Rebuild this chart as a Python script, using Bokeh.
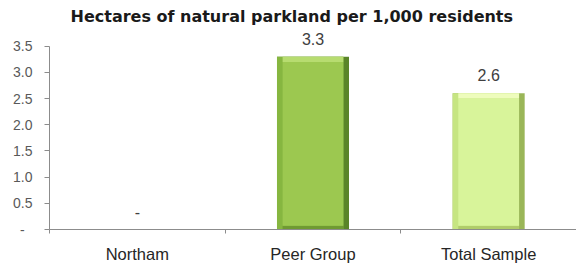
from bokeh.plotting import figure
from bokeh.models import FixedTicker, Range1d, ColumnDataSource
from bokeh.core.properties import value
from bokeh.embed import file_html
from bokeh.resources import INLINE

# ---- data ----
title_text = "Hectares of natural parkland per 1,000 residents"
categories = ["Northam", "Peer Group", "Total Sample"]
values = [0.0, 3.3, 2.6]
value_labels = ["-", "3.3", "2.6"]
y_ticks = [0.0, 0.5, 1.0, 1.5, 2.0, 2.5, 3.0, 3.5]
y_tick_labels = ["-\u00a0\u00a0", "0.5", "1.0", "1.5", "2.0", "2.5", "3.0", "3.5"]

# ---- styles (per bar) ----
main_colors = ["#9cc850", "#9cc850", "#d8f49a"]
left_colors = ["#86b640", "#86b640", "#c6e582"]
dark_colors = ["#5a8428", "#5a8428", "#9ab658"]
top_colors = ["#b7dc70", "#b7dc70", "#eefcbc"]
bottom_colors = ["#6f9a32", "#6f9a32", "#b0cc6a"]

pos = [i + 0.5 for i in range(len(categories))]

p = figure(width=576, height=265, output_backend="svg", toolbar_location=None,
           x_range=Range1d(0, len(categories)), y_range=Range1d(0, 3.8),
           min_border_left=49, min_border_right=0, min_border_top=30, min_border_bottom=33)

p.title.text = title_text
p.title.text_font = "DejaVu Sans"
p.title.text_font_style = "bold"
p.title.text_font_size = "16px"
p.title.text_color = "#1a1a1a"
p.title.align = "left"
p.title.offset = 21
p.title.standoff = 9

hw = 0.205   # half bar width (data units)
ex = 0.032   # side bevel
ty = 0.10    # top bevel
by = 0.07    # bottom bevel

idx = [i for i, v in enumerate(values) if v > 0]
def col(lst):
    return [lst[i] for i in idx]
bx = col(pos)
bv = col(values)

src = ColumnDataSource(dict(
    x=bx, v=bv,
    l=[c - hw for c in bx], r=[c + hw for c in bx],
    lin=[c - hw + ex for c in bx], rin=[c + hw - ex for c in bx],
    vt=[v - ty for v in bv], b0=[0.0] * len(bx), bb=[by] * len(bx),
    dark=col(dark_colors), left=col(left_colors), main=col(main_colors),
    topc=col(top_colors), botc=col(bottom_colors),
))

p.quad(left="l", right="r", top="v", bottom="b0", fill_color="dark", line_color=None, source=src)
p.quad(left="l", right="rin", top="v", bottom="b0", fill_color="left", line_color=None, source=src)
p.quad(left="lin", right="rin", top="v", bottom="vt", fill_color="topc", line_color=None, source=src)
p.quad(left="lin", right="rin", top="bb", bottom="b0", fill_color="botc", line_color=None, source=src)
p.quad(left="lin", right="rin", top="vt", bottom="bb", fill_color="main", line_color=None, source=src)

lab = ColumnDataSource(dict(x=pos, y=values, t=value_labels))
p.text(x="x", y="y", text="t", source=lab, text_align="center", text_baseline="middle",
       y_offset=-18, text_font=value("Liberation Sans"), text_font_size="16px", text_color="#404040")

# axes
p.xgrid.visible = False
p.ygrid.visible = False
p.outline_line_color = None

ya = p.yaxis[0]
ya.ticker = FixedTicker(ticks=y_ticks)
ya.major_label_overrides = {t: s for t, s in zip(y_ticks, y_tick_labels)}
ya.bounds = (0, 3.5)
ya.axis_line_color = "#8c8c8c"
ya.major_tick_line_color = "#8c8c8c"
ya.major_tick_out = 5
ya.major_tick_in = 0
ya.minor_tick_line_color = None
ya.major_label_standoff = 12
ya.major_label_text_font = "Liberation Sans"
ya.major_label_text_font_size = "14px"
ya.major_label_text_color = "#595959"

xa = p.xaxis[0]
xa.ticker = FixedTicker(ticks=pos, minor_ticks=[float(i) for i in range(len(categories) + 1)])
xa.major_label_overrides = {t: s for t, s in zip(pos, categories)}
xa.axis_line_color = "#8c8c8c"
xa.major_tick_line_color = None
xa.major_tick_out = 0
xa.major_tick_in = 0
xa.minor_tick_line_color = "#8c8c8c"
xa.minor_tick_out = 4
xa.minor_tick_in = 0
xa.major_label_standoff = 11
xa.major_label_text_font = "Liberation Sans"
xa.major_label_text_font_size = "16.5px"
xa.major_label_text_color = "#262626"

open("out.html", "w").write(file_html(p, INLINE))
